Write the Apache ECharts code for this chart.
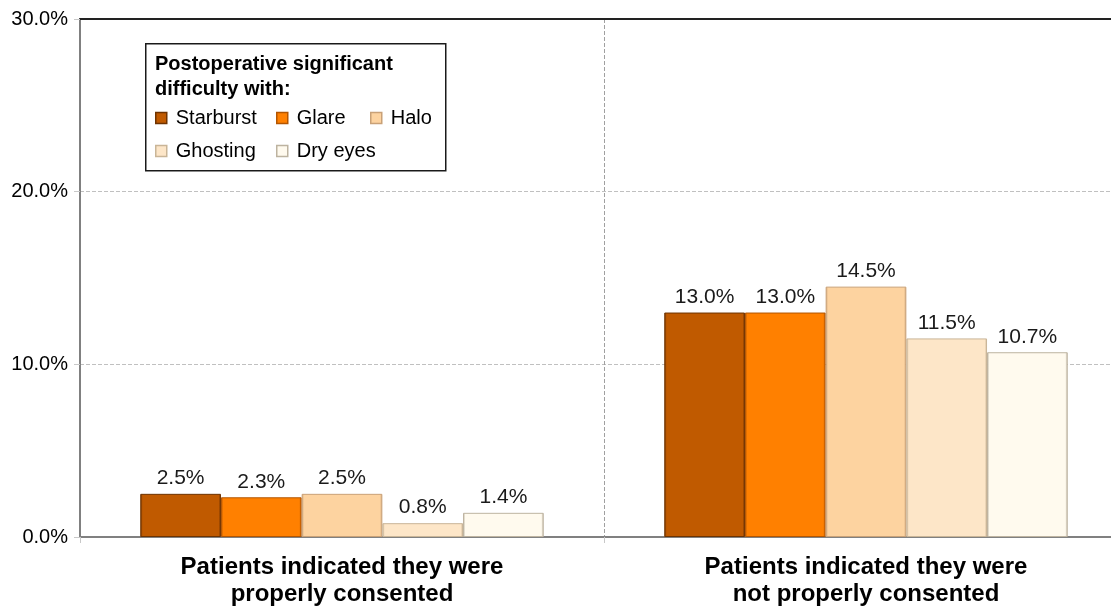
<!DOCTYPE html>
<html>
<head>
<meta charset="utf-8">
<script src="https://cdn.jsdelivr.net/npm/echarts@6/dist/echarts.min.js"></script>
<style>
html,body{margin:0;padding:0;background:#fff;overflow:hidden;width:1111px;height:612px;}
#chart{width:1128px;height:612px;}
</style>
</head>
<body>
<div id="chart"></div>
<script>
const categories = ['Patients indicated they were\nproperly consented', 'Patients indicated they were\nnot properly consented'];
const seriesNames = ['Starburst', 'Glare', 'Halo', 'Ghosting', 'Dry eyes'];
const starburst = [2.5, 13.0];
const glare = [2.3, 13.0];
const halo = [2.5, 14.5];
const ghosting = [0.8, 11.5];
const dryEyes = [1.4, 10.7];
const yMin = 0, yMax = 30, yStep = 10;
const legendTitle = 'Postoperative significant\ndifficulty with:';

const seriesData = [starburst, glare, halo, ghosting, dryEyes];
const colors = ['#c05a00', '#ff8000', '#fdd3a0', '#fde6c8', '#fffaee'];
const borders = ['#6e3300', '#b35500', '#c9a177', '#c9b597', '#bdb3a0'];
const FONT = '"Liberation Sans", Arial, sans-serif';

function bevel(c, b) {
  return new echarts.graphic.LinearGradient(0, 0, 1, 0, [
    {offset: 0, color: b}, {offset: 0.03, color: c}, {offset: 0.97, color: c}, {offset: 1, color: b}
  ]);
}

const legendPos = [[155, 108], [276, 108], [370, 108], [155, 141], [276, 141]];

const chart = echarts.init(document.getElementById('chart'));
chart.setOption({
  animation: false,
  backgroundColor: '#fff',
  grid: {left: 80, top: 19, right: 0, bottom: 75, containLabel: false},
  legend: seriesNames.map((n, i) => ({
    data: [n], left: legendPos[i][0], top: legendPos[i][1], padding: 0, z: 20,
    itemWidth: 11, itemHeight: 11, itemGap: 0, icon: 'rect',
    itemStyle: {color: colors[i], borderColor: borders[i], borderWidth: 1.5},
    textStyle: {fontFamily: FONT, fontSize: 20, color: '#000', padding: [0, 0, 0, 4]}
  })),
  graphic: [
    {type: 'rect', left: 145, top: 43, z: 10,
     shape: {width: 300, height: 127}, style: {fill: '#fff', stroke: '#1a1a1a', lineWidth: 1.5}},
    {type: 'text', left: 155, top: 52, z: 11,
     style: {text: legendTitle, font: 'bold 20px ' + FONT, fill: '#000', lineHeight: 25}}
  ],
  xAxis: [{
    type: 'category', data: categories, position: 'bottom',
    axisLine: {lineStyle: {color: '#808080', width: 2}},
    axisTick: {show: true, length: 6, lineStyle: {color: '#c8c8c8'}},
    axisLabel: {fontFamily: FONT, fontSize: 24, fontWeight: 'bold', color: '#000', lineHeight: 27, margin: 17},
    splitLine: {show: true, lineStyle: {type: 'dashed', color: '#a0a0a0', width: 1}}
  }, {
    type: 'category', data: categories, position: 'top',
    axisLine: {lineStyle: {color: '#222', width: 2}},
    axisTick: {show: false}, axisLabel: {show: false}, splitLine: {show: false}
  }],
  yAxis: {
    type: 'value', min: yMin, max: yMax, interval: yStep,
    axisLine: {show: true, lineStyle: {color: '#808080', width: 2}},
    axisTick: {show: true, length: 6, lineStyle: {color: '#c8c8c8'}},
    axisLabel: {fontFamily: FONT, fontSize: 20, color: '#000', margin: 12,
      formatter: v => v.toFixed(1) + '%'},
    splitLine: {lineStyle: {type: 'dashed', color: '#c0c0c0', width: 1}}
  },
  series: seriesNames.map((n, i) => ({
    name: n, type: 'bar', data: seriesData[i],
    barGap: '0%', barCategoryGap: '23%',
    itemStyle: {color: bevel(colors[i], borders[i]), borderColor: borders[i], borderWidth: 1},
    label: {show: true, position: 'top', distance: 5, fontFamily: FONT, fontSize: 21, color: '#1a1a1a',
      formatter: p => p.value.toFixed(1) + '%'}
  })),
  color: colors
});
</script>
</body>
</html>
